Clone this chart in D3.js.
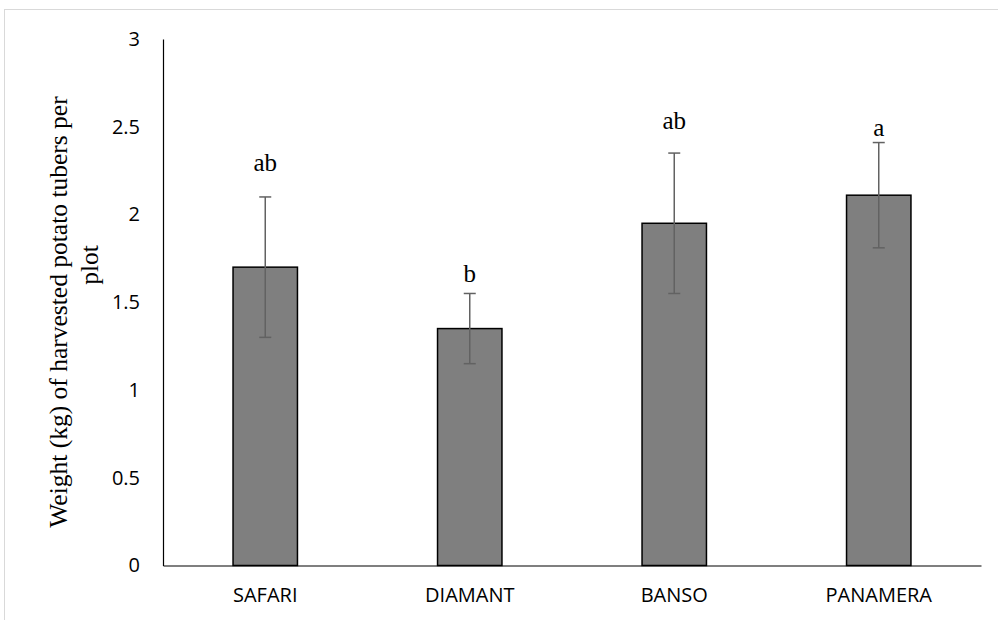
<!DOCTYPE html>
<html>
<head>
<meta charset="utf-8">
<script src="https://cdn.jsdelivr.net/npm/d3@7"></script>
<style>
    body { margin: 0; background: #fff; }
    #graph-svg text { fill: #000; }
</style>
</head>
<body>
<svg id="graph-svg" width="998" height="620"></svg>
<script>
// values
const varieties = ['SAFARI', 'DIAMANT', 'BANSO', 'PANAMERA'];
const meanWeights = [1.70, 1.35, 1.95, 2.11];
const stdErrors = [0.40, 0.20, 0.40, 0.30];
const groupLetters = ['ab', 'b', 'ab', 'a'];
const letterLevels = [2.25, 1.615, 2.49, 2.45];   // baseline of letters, in kg
const yTicks = [0, 0.5, 1, 1.5, 2, 2.5, 3];

const svg = d3.select('#graph-svg');

// light frame of the chart area, runs off the right and bottom edges
svg.append('rect')
    .attr('x', 4.5).attr('y', 9.5)
    .attr('width', 1100).attr('height', 1000)
    .attr('fill', 'none')
    .attr('stroke', '#d9d9d9');

const plotLeft = 163, plotRight = 981, plotTop = 39, plotBottom = 565.5;

const x = d3.scaleBand()
      .domain(varieties)
      .range([plotLeft, plotRight])
      .paddingInner(0.685)
      .paddingOuter(0.3425);

const y = d3.scaleLinear()
      .domain([0, 3])
      .range([plotBottom, plotTop]);

const data = varieties.map((name, i) => ({
    name,
    value: meanWeights[i],
    err: stdErrors[i],
    letter: groupLetters[i],
    letterAt: letterLevels[i]
}));

// bars
svg.append('g').attr('id', 'bar-group')
    .selectAll('rect')
    .data(data)
    .enter()
    .append('rect')
    .attr('x', d => x(d.name))
    .attr('y', d => y(d.value))
    .attr('width', x.bandwidth())
    .attr('height', d => y(0) - y(d.value))
    .attr('fill', '#7f7f7f')
    .attr('stroke', '#000')
    .attr('stroke-width', 1.5);

// error bars
const capHalf = 6;
const errGroup = svg.append('g').attr('id', 'error-group')
      .attr('stroke', '#626262')
      .attr('stroke-width', 1.5);
const errEnter = errGroup.selectAll('g')
      .data(data)
      .enter()
      .append('g');
const midX = d => x(d.name) + x.bandwidth() / 2;
errEnter.append('line')
    .attr('x1', midX)
    .attr('x2', midX)
    .attr('y1', d => y(d.value + d.err))
    .attr('y2', d => y(d.value - d.err));
[1, -1].forEach(sign => {
    errEnter.append('line')
        .attr('x1', d => midX(d) - capHalf)
        .attr('x2', d => midX(d) + capHalf)
        .attr('y1', d => y(d.value + sign * d.err))
        .attr('y2', d => y(d.value + sign * d.err));
});

// significance letters
const serifFont = '"Liberation Serif", "Times New Roman", serif';
svg.append('g').attr('id', 'letter-group')
    .selectAll('text')
    .data(data)
    .enter()
    .append('text')
    .attr('x', midX)
    .attr('y', d => y(d.letterAt))
    .attr('text-anchor', 'middle')
    .style('font-family', serifFont)
    .style('font-size', '25px')
    .text(d => d.letter);

// axes
const yAxis = svg.append('g')
      .attr('transform', `translate(${plotLeft},0)`)
      .call(d3.axisLeft(y).tickValues(yTicks).tickFormat(d3.format('')).tickSize(0).tickPadding(23));
const xAxis = svg.append('g')
      .attr('transform', `translate(0,${plotBottom})`)
      .call(d3.axisBottom(x).tickSize(0).tickPadding(22));

[xAxis, yAxis].forEach(axis => {
    axis.select('.domain').attr('stroke', '#000').attr('stroke-width', 1.2);
    axis.selectAll('text')
        .style('font-family', '"Open Sans", "Noto Sans", sans-serif')
        .style('font-size', '20px');
});

// y axis title, two lines each centred on its own
svg.append('text')
    .attr('transform', 'translate(67,312) rotate(-90)')
    .attr('text-anchor', 'middle')
    .style('font-family', serifFont)
    .style('font-size', '25.5px')
    .text('Weight (kg) of harvested potato tubers per');
svg.append('text')
    .attr('transform', 'translate(98,265) rotate(-90)')
    .attr('text-anchor', 'middle')
    .style('font-family', serifFont)
    .style('font-size', '25.5px')
    .text('plot');
</script>
</body>
</html>
